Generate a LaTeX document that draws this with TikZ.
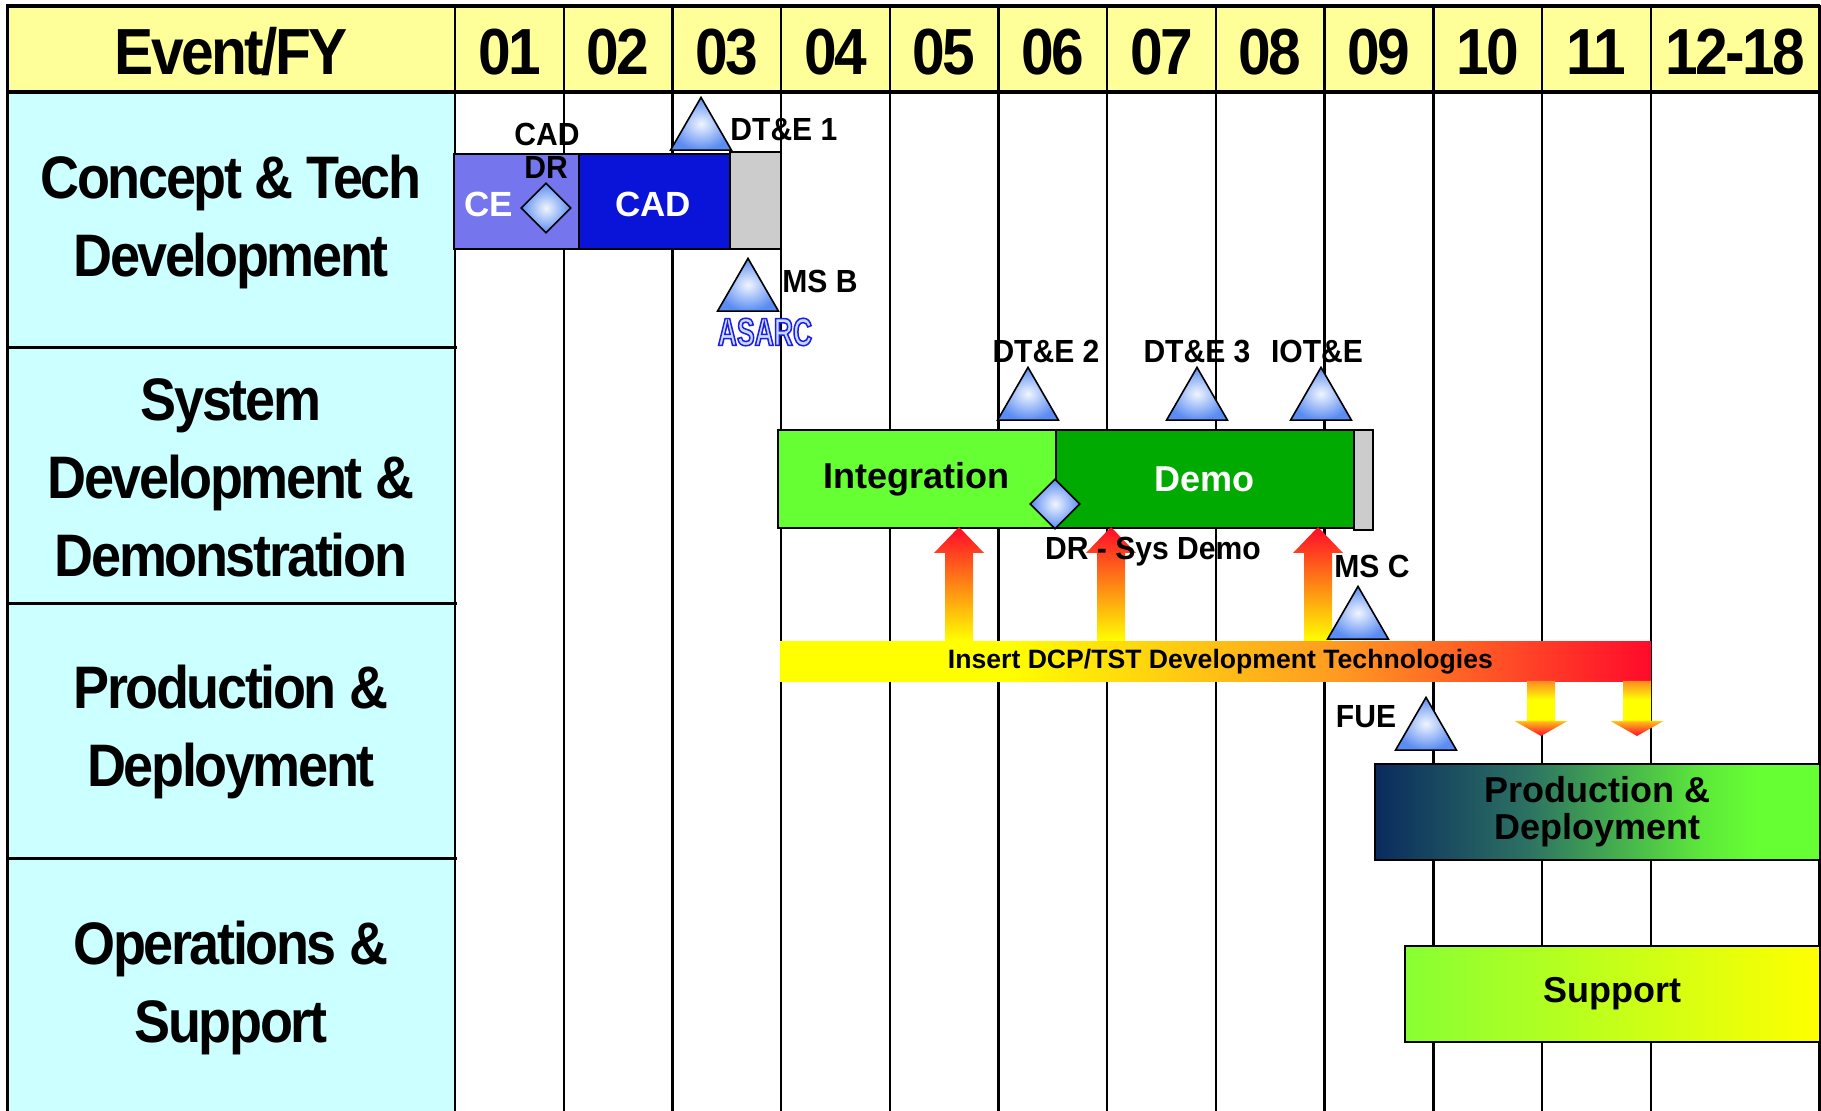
\documentclass[tikz,border=0pt]{standalone}
\usepackage{fontspec}
\setmainfont{Liberation Sans}
\newfontfamily\condfont[FakeStretch=0.9,LetterSpace=-4]{Liberation Sans}
\newfontfamily\lblfont[FakeStretch=0.94]{Liberation Sans}
\newfontfamily\asarcfont[FakeStretch=0.68]{Liberation Sans}
\usetikzlibrary{positioning,shapes.geometric}

\definecolor{headyellow}{HTML}{FFFF99}
\definecolor{rowcyan}{HTML}{CCFFFF}
\definecolor{ceblue}{HTML}{7575EE}
\definecolor{cadblue}{HTML}{0A14D8}
\definecolor{padgrey}{HTML}{CCCCCC}
\definecolor{intgreen}{HTML}{66FF33}
\definecolor{demogreen}{HTML}{00AA00}
\definecolor{msblue}{HTML}{5A8CF2}
\definecolor{mslight}{HTML}{F0F5FF}
\definecolor{asarcfill}{HTML}{C8DCFF}
\definecolor{techyellow}{HTML}{FFFF00}
\definecolor{techorange}{HTML}{FF9A22}
\definecolor{techred}{HTML}{FF0A2A}
\definecolor{prodnavy}{HTML}{0A2B5E}
\definecolor{prodteal}{HTML}{2C7163}
\definecolor{supgreen}{HTML}{88FF33}

\pgfdeclarehorizontalshading{techbar}{100bp}{color(0bp)=(techyellow); color(25bp)=(techyellow);
  color(38bp)=(techyellow); color(57bp)=(techorange); color(75bp)=(techred); color(100bp)=(techred)}
\pgfdeclarehorizontalshading{prodbar}{100bp}{color(0bp)=(prodnavy); color(25bp)=(prodnavy);
  color(42bp)=(prodteal); color(62bp)=(intgreen!85!prodteal); color(68bp)=(intgreen); color(100bp)=(intgreen)}
\pgfdeclareverticalshading{dnarrow}{100bp}{color(0bp)=(techred); color(25bp)=(techred);
  color(38bp)=(techorange!70!techyellow); color(40bp)=(techyellow); color(58bp)=(techyellow);
  color(75bp)=(techorange!90!techred); color(100bp)=(techorange!90!techred)}

% outlined lettering (stroke + fill)
\newcommand\outlined[1]{\special{pdf:literal direct 0.118 0.118 0.91 RG 0.75 w 2 Tr}#1%
  \special{pdf:literal direct 0 Tr}}

\begin{document}
\begin{tikzpicture}[x=0.5pt,y=-0.5pt,
   gridline/.style={line width=1.2pt},
   hdr/.style={font=\condfont\bfseries\fontsize{32.6}{34}\selectfont,anchor=base,inner sep=0pt},
   phase/.style={font=\condfont\bfseries\fontsize{30}{39}\selectfont,align=center},
   bar/.style={draw,line width=0.9pt,inner sep=0pt,anchor=north west,align=center,
     font=\bfseries\fontsize{18}{18.7}\selectfont},
   barlbl/.style={font=\bfseries\fontsize{17.5}{18}\selectfont,inner sep=0pt,anchor=base},
   evt/.style={font=\lblfont\bfseries\fontsize{16}{17}\selectfont,inner sep=0pt,anchor=base},
   ms/.style={regular polygon,regular polygon sides=3,minimum size=35.2pt,inner sep=0pt,
     draw,line width=0.8pt,inner color=mslight,outer color=msblue,anchor=south},
   dr/.style={diamond,minimum size=25pt,inner sep=0pt,draw,line width=0.8pt,
     inner color=mslight,outer color=msblue},
   asarc/.style={font=\asarcfont\bfseries\fontsize{19.5}{19.5}\selectfont,inner sep=0pt,text=asarcfill},
   uparr/.style={top color=techred,middle color=techorange,bottom color=techyellow},
   dnarr/.style={shade,shading=dnarrow}]
   \useasboundingbox (0,0) rectangle (1821,1111);

   % table frame
   \fill[headyellow] (7,6) rectangle (1819,92);
   \fill[rowcyan] (7,92) rectangle (455,1111);
   \foreach \i in {0,...,11}
     \draw[gridline] ({455+108.7*\i},6) -- ({455+108.7*\i},1111);
   \draw[line width=2pt] (6,6) -- (1820,6) (6,92) -- (1820,92);
   \draw[line width=1.5pt] (7,5) -- (7,1111) (1819,5) -- (1819,1111);
   \foreach \y in {348,604,859}
     \draw[line width=1.5pt] (7,\y) -- (457,\y);

   % header
   \node[hdr] (hdr_event) at (231,75) {Event/FY};
   \foreach \yr [count=\i from 0] in {01,02,03,04,05,06,07,08,09,10,11}
     \node[hdr] (hdr_\i) at ({509.35+108.7*\i},75) {\yr};
   \node[hdr] (hdr_late) at (1735,75) {12-18};

   % phases
   \node[phase] (ph_ctd) at (231,222) {Concept \& Tech\\Development};
   \node[phase] (ph_sdd) at (231,478) {System\\Development \&\\Demonstration};
   \node[phase] (ph_pd)  at (231,732) {Production \&\\Deployment};
   \node[phase] (ph_os)  at (231,988) {Operations \&\\Support};

   % bars
   \node[bar,fill=ceblue,minimum width=62.5pt,minimum height=47.5pt] (ce_box) at (453,153) {};
   \node[bar,fill=cadblue,minimum width=75.5pt,minimum height=47.5pt] (cad_box) at (578,153) {};
   \node[bar,fill=padgrey,minimum width=25.5pt,minimum height=48.5pt] (ctd_pad) at (729,151) {};
   \node[bar,fill=intgreen,minimum width=139pt,minimum height=49pt] (int_box) at (777,429) {Integration};
   \node[bar,fill=demogreen,text=white,minimum width=149pt,minimum height=49pt] (demo_box) at (1055,429) {Demo};
   \node[bar,fill=padgrey,minimum width=9.5pt,minimum height=50pt] (sdd_pad) at (1353,429) {};
   \node[barlbl,text=white] (ce_lbl) at (489,216.7) {CE};
   \node[barlbl,text=white] (cad_lbl) at (653,216.7) {CAD};

   % technology insertion
   \foreach \cx in {959,1111,1318}
     \shade[uparr] (\cx,527) -- ({\cx+25},553) -- ({\cx+14},553) -- ({\cx+14},641)
       -- ({\cx-14},641) -- ({\cx-14},553) -- ({\cx-25},553) -- cycle;
   \node[bar,draw=none,shade,shading=techbar,minimum width=435.5pt,minimum height=20pt,
     font=\bfseries\fontsize{13.3}{14}\selectfont] (tech_bar) at (779,641)
     {\hspace*{5pt}Insert DCP/TST Development Technologies};
   \foreach \cx in {1541,1637}
     \path[dnarr] ({\cx-14},681) -- ({\cx+14},681) -- ({\cx+14},721) -- ({\cx+26.5},721)
       -- (\cx,736) -- ({\cx-26.5},721) -- ({\cx-14},721) -- cycle;

   \node[bar,shade,shading=prodbar,minimum width=222.5pt,minimum height=48pt] (prod_box) at (1374,763)
     {Production \&\\Deployment};
   \node[bar,left color=supgreen,right color=techyellow,minimum width=207.5pt,minimum height=48pt]
     (sup_box) at (1404,945) {Support};

   % milestones and reviews
   \node[dr] (dr_cad) at (546,208) {};
   \node[evt] (lbl_cad) at (547,146) {CAD};
   \node[evt] (lbl_dr) at (546,179) {DR};
   \node[ms] (ms_dte1) at (701,151) {};
   \node[evt,anchor=base west] (lbl_dte1) at (730,141) {DT\&E 1};
   \node[ms] (ms_b) at (748,312) {};
   \node[evt,anchor=base west] (lbl_msb) at (782,293) {MS B};
   \node[asarc] (asarc) at (765,332) {\outlined{ASARC}};

   \node[ms] (ms_dte2) at (1028,421) {};
   \node[ms] (ms_dte3) at (1197,421) {};
   \node[ms] (ms_iote) at (1321,421) {};
   \node[evt] (lbl_dte2) at (1046,362.7) {DT\&E 2};
   \node[evt] (lbl_dte3) at (1197,362.7) {DT\&E 3};
   \node[evt] (lbl_iote) at (1317,362.7) {IOT\&E};
   \node[dr] (dr_sys) at (1055,504) {};
   \node[evt] (lbl_drsys) at (1153,560) {DR - Sys Demo};
   \node[ms] (ms_c) at (1358,640) {};
   \node[evt,anchor=base west] (lbl_msc) at (1334,578) {MS C};
   \node[ms] (ms_fue) at (1426,751) {};
   \node[evt] (lbl_fue) at (1366,727.7) {FUE};
\end{tikzpicture}
\end{document}
